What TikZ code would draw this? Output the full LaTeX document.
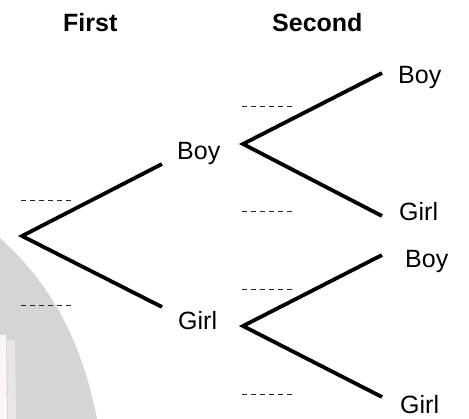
\documentclass[tikz,border=0pt]{standalone}
\usepackage{fontspec}
\setmainfont{Liberation Sans}
\begin{document}
\begin{tikzpicture}[x=1pt,y=-1pt,
  lbl/.style={anchor=base west,inner sep=0pt,font=\fontsize{25}{30}\selectfont},
  head/.style={lbl,font=\fontsize{25}{30}\selectfont\bfseries},
  branch/.style={line width=3.8pt,line join=miter},
  blank/.style={draw=black!85,line width=1pt,dash pattern=on 5pt off 4pt}]
\useasboundingbox (0,0) rectangle (469,419);

% faint watermark in the lower left corner
\fill[gray!33] (0,238) .. controls (35,270) and (78,320) .. (97,419) -- (0,419) -- cycle;
\fill[magenta!4] (0,335) -- (6,335) -- (7,419) -- (0,419) -- cycle;
\fill[magenta!3!gray!22] (7,340) -- (15,340) -- (16,419) -- (8,419) -- cycle;

% column headings
\node[head] (hfirst) at (63,32) {First};
\node[head] (hsecond) at (272,32) {Second};

% outcome labels
\node[lbl] (b1) at (177,160) {Boy};
\node[lbl] (g1) at (178,330) {Girl};
\node[lbl] (bb) at (398,84) {Boy};
\node[lbl] (bg) at (399,221) {Girl};
\node[lbl] (gb) at (405,268) {Boy};
\node[lbl] (gg) at (400,414) {Girl};

% branch points and branch ends
\coordinate (root) at (22,236);
\coordinate (e1) at (162,164);
\coordinate (e2) at (162,307);
\coordinate (fb) at (243,144);
\coordinate (fg) at (243,326);
\coordinate (ebb) at (382,73);
\coordinate (ebg) at (382,216);
\coordinate (egb) at (382,255);
\coordinate (egg) at (382,397);

\draw[branch] (e1) -- (root) -- (e2);
\draw[branch] (ebb) -- (fb) -- (ebg);
\draw[branch] (egb) -- (fg) -- (egg);

% blanks for the probabilities
\draw[blank] (21,201) -- (72,201);
\draw[blank] (21,306) -- (72,306);
\draw[blank] (242,107) -- (292,107);
\draw[blank] (242,212) -- (292,212);
\draw[blank] (242,290) -- (292,290);
\draw[blank] (242,395) -- (292,395);
\end{tikzpicture}
\end{document}
